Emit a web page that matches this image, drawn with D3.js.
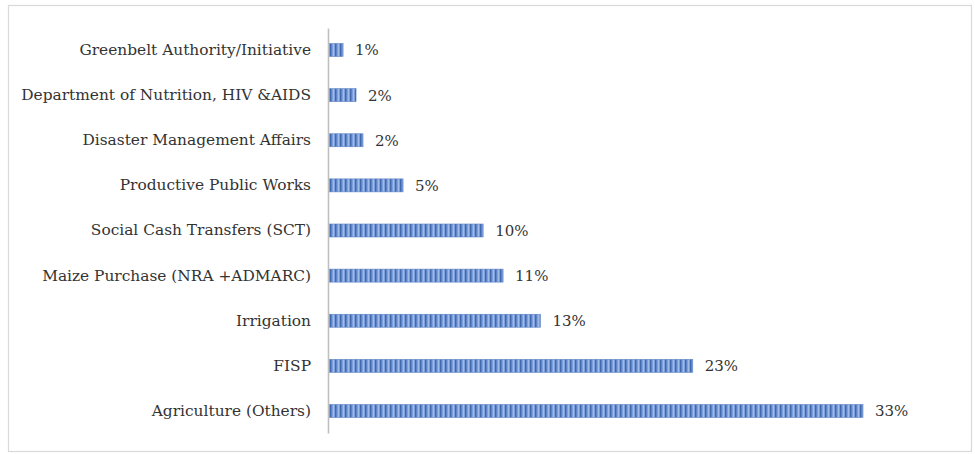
<!DOCTYPE html>
<html>
<head>
<meta charset="utf-8">
<script src="https://cdn.jsdelivr.net/npm/d3@7"></script>
<style>
  html, body { margin: 0; padding: 0; background: #ffffff; }
  svg { display: block; }
</style>
</head>
<body>
<svg id="chart" width="975" height="454"></svg>
<script>
// Data (top to bottom as shown)
const categories = [
  "Greenbelt Authority/Initiative",
  "Department of Nutrition, HIV &AIDS",
  "Disaster Management Affairs",
  "Productive Public Works",
  "Social Cash Transfers (SCT)",
  "Maize Purchase (NRA +ADMARC)",
  "Irrigation",
  "FISP",
  "Agriculture (Others)"
];
// estimated shares (%)
const values = [0.93, 1.73, 2.16, 4.63, 9.57, 10.8, 13.1, 22.5, 33.0];
// labels as printed on the chart
const valueLabels = ["1%", "2%", "2%", "5%", "10%", "11%", "13%", "23%", "33%"];

const svg = d3.select("#chart");

// frame
svg.append("rect")
  .attr("x", 8.5).attr("y", 5.5)
  .attr("width", 963).attr("height", 446)
  .attr("fill", "#ffffff")
  .attr("stroke", "#d9d9d9")
  .attr("stroke-width", 1.2);

// pattern for striped bars
const defs = svg.append("defs");
const pat = defs.append("pattern")
  .attr("id", "stripes")
  .attr("patternUnits", "userSpaceOnUse")
  .attr("width", 5).attr("height", 20);
pat.append("rect").attr("width", 5).attr("height", 20).attr("fill", "#7d9fdc");
pat.append("rect").attr("x", 0).attr("width", 1.5).attr("height", 20).attr("fill", "#4169ae");
pat.append("rect").attr("x", 3).attr("width", 0.8).attr("height", 20).attr("fill", "#a9c2ec");

const x0 = 328, x1 = 863;
const x = d3.scaleLinear().domain([0, 33]).range([x0, x1]);
const y = d3.scaleBand()
  .domain(categories)
  .range([28, 433])
  .paddingInner(0.712)
  .paddingOuter(0.344);

const font = "'DejaVu Serif', 'Liberation Serif', serif";

// bars
svg.append("g")
  .selectAll("rect")
  .data(categories)
  .join("rect")
  .attr("x", x(0) + 1)
  .attr("y", d => y(d))
  .attr("width", (d, i) => x(values[i]) - x(0) - 1)
  .attr("height", y.bandwidth())
  .attr("fill", "url(#stripes)")
  .attr("stroke", "#5c82c4")
  .attr("stroke-width", 0.6);

// value labels
svg.append("g")
  .selectAll("text")
  .data(categories)
  .join("text")
  .attr("x", (d, i) => x(values[i]) + 12)
  .attr("y", d => y(d) + y.bandwidth() / 2)
  .attr("dy", "0.36em")
  .attr("font-family", font)
  .attr("font-size", 15)
  .attr("fill", "#333333")
  .text((d, i) => valueLabels[i]);

// axis
const axis = d3.axisLeft(y).tickSize(0).tickPadding(17);
const gA = svg.append("g")
  .attr("transform", `translate(${x0},0)`)
  .call(axis);
gA.select(".domain").attr("stroke", "#bfbfbf").attr("stroke-width", 1.6);
gA.selectAll(".tick text")
  .attr("font-family", font)
  .attr("font-size", 15.4)
  .attr("fill", "#333333");
</script>
</body>
</html>
